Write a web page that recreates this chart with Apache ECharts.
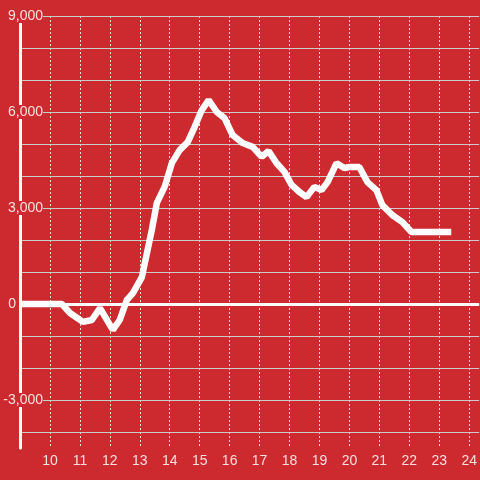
<!DOCTYPE html>
<html><head><meta charset="utf-8">
<script src="https://cdn.jsdelivr.net/npm/echarts@6/dist/echarts.min.js"></script>
<style>html,body{margin:0;padding:0;background:#cc2a2e;}#c{width:480px;height:480px;}</style>
</head><body><div id="c"></div>
<script>
const hours = [9, 10.4, 10.67, 11.1, 11.4, 11.67, 12.1, 12.33, 12.57, 12.77, 13.07, 13.4, 13.57, 13.83, 14.07, 14.33, 14.6, 14.83, 15.07, 15.3, 15.57, 15.83, 16.1, 16.43, 16.77, 17.07, 17.3, 17.57, 17.83, 18.07, 18.33, 18.57, 18.83, 19.07, 19.27, 19.57, 19.83, 20.0, 20.33, 20.6, 20.9, 21.1, 21.43, 21.77, 22.07, 23.4];
const values = [0, 0, -280, -560, -500, -130, -810, -500, 130, 340, 840, 2310, 3160, 3660, 4400, 4810, 5060, 5530, 6060, 6370, 6000, 5810, 5280, 5030, 4910, 4600, 4780, 4400, 4130, 3720, 3500, 3340, 3660, 3560, 3810, 4400, 4250, 4280, 4280, 3810, 3560, 3090, 2780, 2560, 2250, 2250];
const yLabelValues = [-3000, 0, 3000, 6000, 9000];
const xLabelValues = [10, 11, 12, 13, 14, 15, 16, 17, 18, 19, 20, 21, 22, 23, 24];

const chart = echarts.init(document.getElementById('c'));
const bg = '#cc2a2e';
const labelColor = 'rgba(255,255,255,0.85)';
chart.setOption({
  backgroundColor: bg,
  animation: false,
  grid: {left: 20, right: 0, top: 16, bottom: 32, containLabel: false},
  xAxis: {
    type: 'value', min: 9, max: 9 + 460 / 30, interval: 1,
    axisLine: {show: false}, axisTick: {show: false},
    splitLine: {show: true, showMaxLine: false, lineStyle: {color: '#e0e0e0', width: 1, type: [2, 2]}},
    axisLabel: {
      color: labelColor, fontFamily: 'Liberation Sans', fontSize: 14, margin: 6,
      showMaxLabel: false,
      formatter: v => xLabelValues.includes(v) ? String(v) : ''
    }
  },
  yAxis: {
    type: 'value', min: -4500, max: 9000, minInterval: 1000, maxInterval: 1000,
    axisLine: {show: true, onZero: false, lineStyle: {color: '#ffffff', width: 3}},
    axisTick: {show: false},
    splitLine: {show: true, showMinLine: false, lineStyle: {color: '#cccccc', width: 1}},
    axisLabel: {
      color: labelColor, fontFamily: 'Liberation Sans', fontSize: 14, margin: -23,
      formatter: v => {
        if (!yLabelValues.includes(v)) return '';
        if (v === 0) return '{z|0}';
        return '{b|' + v.toLocaleString('en-US') + '}';
      },
      rich: {
        b: {backgroundColor: bg, color: labelColor, fontFamily: 'Liberation Sans', fontSize: 14},
        z: {color: labelColor, fontFamily: 'Liberation Sans', fontSize: 14, padding: [0, 27, 0, 0]}
      }
    },
    z: 3
  },
  series: [{
    type: 'line',
    data: hours.map((h, i) => [h, values[i]]),
    symbol: 'none',
    lineStyle: {color: '#ffffff', width: 6.5},
    markLine: {
      silent: true, symbol: 'none', label: {show: false},
      lineStyle: {color: '#ffffff', width: 3, type: 'solid'},
      data: [{yAxis: 0}]
    }
  }]
});
</script></body></html>
